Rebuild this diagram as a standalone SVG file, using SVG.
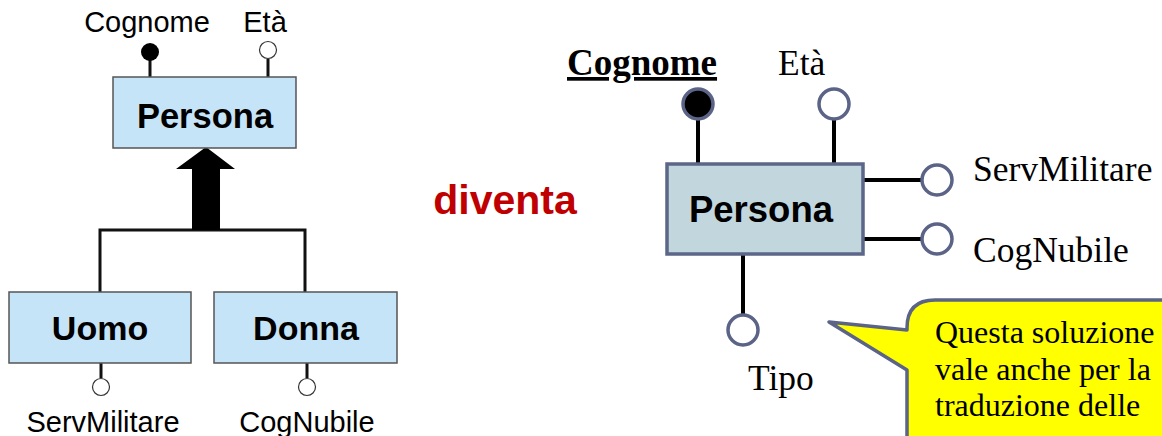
<svg xmlns="http://www.w3.org/2000/svg" width="1162" height="436" viewBox="0 0 1162 436">
<style>
.sans{font-family:"Liberation Sans",Arial,sans-serif}
.serif{font-family:"Liberation Serif","Times New Roman",serif}
.lent{fill:#c6e4f8;stroke:#555;stroke-width:1.5}
.lattr{fill:#fff;stroke:#333;stroke-width:1.2}
.lline{stroke:#111;stroke-width:3;fill:none}
.rline{stroke:#000;stroke-width:4;fill:none}
.rattr{fill:#fff;stroke:#5b6386;stroke-width:3.5}
.lbl{font-size:29px;fill:#000}
.rlbl{font-size:35.5px;fill:#000}
</style>
<rect width="1162" height="436" fill="#fff"/>

<!-- LEFT -->
<g id="connectors-left">
  <line class="lline" x1="150" y1="60" x2="150" y2="77"/>
  <line class="lline" x1="268" y1="59" x2="268" y2="77"/>
  <polyline class="lline" points="100,292 100,230 305,230 305,292"/>
  <line class="lline" x1="101" y1="363" x2="101" y2="378"/>
  <line class="lline" x1="307" y1="363" x2="307" y2="378"/>
  <polygon points="206,147 235,169 220,169 220,230 192,230 192,169 176,169" fill="#000"/>
</g>
<g id="l-persona">
  <rect class="lent" x="113" y="77" width="183" height="71"/>
  <text class="sans" x="205" y="128" font-size="34.5" font-weight="bold" text-anchor="middle">Persona</text>
</g>
<g id="l-cognome">
  <circle cx="150" cy="52" r="9" fill="#000"/>
  <text class="sans lbl" x="147" y="32" text-anchor="middle">Cognome</text>
</g>
<g id="l-eta">
  <circle class="lattr" cx="268" cy="50" r="8.5"/>
  <text class="sans lbl" x="265" y="32" text-anchor="middle">Età</text>
</g>
<g id="l-uomo">
  <rect class="lent" x="9" y="292" width="182" height="71"/>
  <text class="sans" x="100" y="340" font-size="34" font-weight="bold" text-anchor="middle">Uomo</text>
</g>
<g id="l-donna">
  <rect class="lent" x="214" y="292" width="183" height="71"/>
  <text class="sans" x="306" y="340" font-size="34" font-weight="bold" text-anchor="middle">Donna</text>
</g>
<g id="l-servmilitare">
  <circle class="lattr" cx="101" cy="387" r="8.5"/>
  <text class="sans lbl" x="103" y="432" text-anchor="middle">ServMilitare</text>
</g>
<g id="l-cognubile">
  <circle class="lattr" cx="307" cy="387" r="8.5"/>
  <text class="sans lbl" x="307" y="432" text-anchor="middle">CogNubile</text>
</g>

<!-- MIDDLE -->
<text class="sans" x="505" y="214" font-size="41" font-weight="bold" fill="#c00000" text-anchor="middle">diventa</text>

<!-- RIGHT -->
<g id="connectors-right">
  <line class="rline" x1="698" y1="119" x2="698" y2="164"/>
  <line class="rline" x1="834" y1="119" x2="834" y2="164"/>
  <line class="rline" x1="863" y1="180" x2="922" y2="180"/>
  <line class="rline" x1="863" y1="239" x2="922" y2="239"/>
  <line class="rline" x1="743" y1="254" x2="743" y2="315"/>
</g>
<g id="r-persona">
  <rect x="667" y="164" width="196" height="90" fill="#c2d6de" stroke="#5b6688" stroke-width="3.5"/>
  <text class="sans" x="761" y="222" font-size="36.5" font-weight="bold" text-anchor="middle">Persona</text>
</g>
<g id="r-cognome">
  <circle cx="698" cy="104" r="15" fill="#000" stroke="#5b6386" stroke-width="3.5"/>
  <text class="serif" x="567" y="75" font-size="37" font-weight="bold" text-decoration="underline">Cognome</text>
</g>
<g id="r-eta">
  <circle class="rattr" cx="834" cy="104" r="15"/>
  <text class="serif rlbl" x="778" y="75">Età</text>
</g>
<g id="r-servmilitare">
  <circle class="rattr" cx="937" cy="180" r="15"/>
  <text class="serif rlbl" x="973" y="181">ServMilitare</text>
</g>
<g id="r-cognubile">
  <circle class="rattr" cx="937" cy="239" r="15"/>
  <text class="serif rlbl" x="973" y="262">CogNubile</text>
</g>
<g id="r-tipo">
  <circle class="rattr" cx="743" cy="330" r="15"/>
  <text class="serif rlbl" x="748" y="390">Tipo</text>
</g>

<!-- CALLOUT -->
<g id="callout">
  <path d="M907,330 L829,322 L907,370 L907,445 L1170,445 L1170,300 L935,300 Q907,300 907,328 Z" fill="#ffff00" stroke="#5b6386" stroke-width="3.5" stroke-linejoin="round"/>
  <text class="serif" font-size="32" fill="#000">
    <tspan x="935" y="343">Questa soluzione</tspan>
    <tspan x="935" y="380">vale anche per la</tspan>
    <tspan x="935" y="416">traduzione delle</tspan>
  </text>
</g>
</svg>
